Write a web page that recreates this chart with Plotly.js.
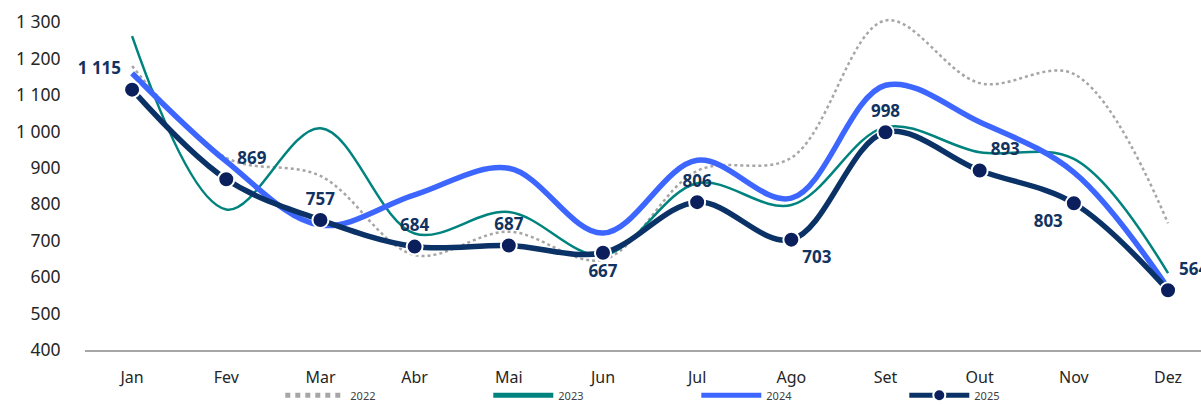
<!DOCTYPE html>
<html>
<head>
<meta charset="utf-8">
<script src="https://cdn.plot.ly/plotly-3.0.1.min.js"></script>
<style>html,body{margin:0;padding:0;background:#fff;}#chart{width:1201px;height:405px;}</style>
</head>
<body>
<div id="chart"></div>
<script>
const months = ["Jan","Fev","Mar","Abr","Mai","Jun","Jul","Ago","Set","Out","Nov","Dez"];
const v2022 = [1180, 928, 878, 661, 725, 648, 892, 928, 1305, 1133, 1158, 748];
const v2023 = [1262, 786, 1009, 720, 779, 660, 858, 798, 1012, 943, 925, 611];
const v2024 = [1160, 918, 743, 826, 899, 721, 921, 817, 1127, 1026, 888, 570];
const v2025 = [1115, 869, 757, 684, 687, 667, 806, 703, 998, 893, 803, 564];
const labelPos2025 = ["top left","top right","top center","top center","top center","bottom center","top center","bottom right","top center","top right","bottom left","top right"];

const font = "'Noto Sans', 'Open Sans', sans-serif";
const traces = [
  {x: months, y: v2022, name: "2022", type: "scatter", mode: "lines",
   line: {color: "#A6A6A6", width: 2.5, dash: "dot", shape: "spline", smoothing: 1}},
  {x: months, y: v2023, name: "2023", type: "scatter", mode: "lines",
   line: {color: "#00837E", width: 2.5, shape: "spline", smoothing: 1}},
  {x: months, y: v2024, name: "2024", type: "scatter", mode: "lines",
   line: {color: "#3D66FF", width: 5.5, shape: "spline", smoothing: 1}},
  {x: months, y: v2025, name: "2025", type: "scatter", mode: "lines+markers+text",
   line: {color: "#0B3266", width: 5.5, shape: "spline", smoothing: 1},
   marker: {color: "#0A1F5C", size: 16, line: {color: "#FFFFFF", width: 2}},
   texttemplate: "%{y:,d}", textposition: labelPos2025, cliponaxis: false,
   textfont: {family: font, size: 17, color: "#12325F", weight: "bold"}}
];

const layout = {
  width: 1201, height: 405,
  margin: {l: 85, r: 0, t: 15, b: 55},
  paper_bgcolor: "#fff", plot_bgcolor: "#fff",
  separators: ", ",
  showlegend: true,
  font: {family: font, color: "#262626"},
  xaxis: {
    type: "category", range: [-0.5, 11.35],
    showgrid: false, zeroline: false,
    showline: true, linecolor: "#A6A6A6", linewidth: 1.5,
    ticks: "outside", ticklen: 12, tickcolor: "rgba(0,0,0,0)",
    tickfont: {family: font, size: 16, color: "#262626"}
  },
  yaxis: {
    range: [400, 1320], dtick: 100, tick0: 400,
    tickformat: ",d",
    showgrid: false, zeroline: false, showline: false,
    ticks: "outside", ticklen: 20, tickcolor: "rgba(0,0,0,0)",
    tickfont: {family: font, size: 17.5, color: "#262626"}
  },
  legend: {
    orientation: "h", xref: "paper", x: 0.175, xanchor: "left",
    yref: "container", y: 0.024, yanchor: "middle",
    bgcolor: "rgba(0,0,0,0)",
    entrywidth: 133, entrywidthmode: "pixels",
    font: {family: font, size: 11, color: "#404040"},
    itemwidth: 60, itemsizing: "constant", tracegroupgap: 0
  }
};

Plotly.newPlot("chart", traces, layout, {displayModeBar: false, staticPlot: true});
</script>
</body>
</html>
